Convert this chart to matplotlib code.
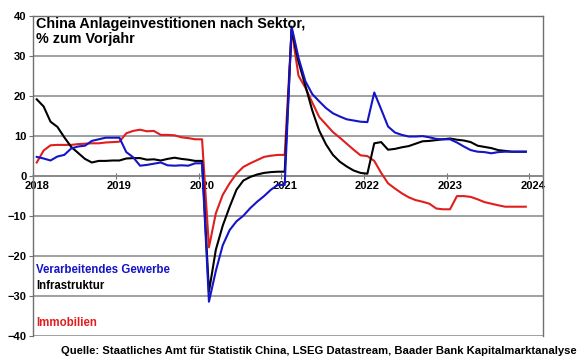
import matplotlib
matplotlib.use("Agg")
import matplotlib.pyplot as plt
import numpy as np
from matplotlib.transforms import ScaledTranslation

plt.rcParams["font.family"] = ["Liberation Sans", "DejaVu Sans"]

# Monthly YTD growth, Jan 2018 - Dec 2023 (Jan carries the Dec value)
years = [2018, 2019, 2020, 2021, 2022, 2023]

verarbeitendes = [
    4.7, 4.3, 3.8, 4.8, 5.2, 6.8, 7.3, 7.5, 8.7, 9.1, 9.5, 9.5,
    9.5, 5.9, 4.6, 2.5, 2.7, 3.0, 3.3, 2.6, 2.5, 2.6, 2.5, 3.1,
    3.1, -31.5, -23.8, -17.4, -13.6, -11.4, -10.0, -8.1, -6.5, -5.1, -3.5, -2.3,
    -2.3, 37.3, 29.5, 23.6, 20.4, 18.6, 16.9, 15.6, 14.8, 14.1, 13.8, 13.5,
    13.4, 20.8, 16.6, 12.3, 10.8, 10.2, 9.8, 9.8, 9.9, 9.6, 9.2, 9.1,
    9.1, 8.3, 7.3, 6.4, 6.0, 5.9, 5.6, 5.9, 6.0, 6.0, 6.0, 6.0,
]

infrastruktur = [
    19.1, 17.3, 13.5, 12.2, 9.6, 7.2, 5.7, 4.2, 3.3, 3.7, 3.7, 3.8,
    3.8, 4.3, 4.4, 4.4, 4.0, 4.1, 3.8, 4.2, 4.5, 4.2, 4.0, 3.7,
    3.7, -29.0, -18.5, -12.5, -7.8, -3.5, -1.2, -0.3, 0.3, 0.7, 0.9, 1.0,
    1.0, 36.6, 28.5, 22.5, 16.3, 11.3, 7.8, 5.2, 3.5, 2.3, 1.3, 0.7,
    0.5, 8.1, 8.4, 6.5, 6.7, 7.1, 7.4, 8.0, 8.6, 8.7, 8.9, 9.1,
    9.3, 9.0, 8.8, 8.4, 7.5, 7.2, 6.9, 6.4, 6.2, 6.0, 6.0, 6.0,
]

immobilien = [
    3.3, 6.3, 7.6, 7.7, 7.7, 7.7, 7.9, 8.0, 8.1, 8.1, 8.3, 8.4,
    8.5, 10.6, 11.2, 11.5, 11.1, 11.2, 10.2, 10.2, 10.1, 9.6, 9.4, 9.1,
    9.1, -17.9, -9.4, -4.8, -1.9, 0.5, 2.2, 3.1, 3.9, 4.7, 5.0, 5.2,
    5.2, 36.5, 25.0, 22.0, 18.3, 14.7, 12.8, 10.9, 9.5, 8.0, 6.5, 5.1,
    4.9, 3.7, 0.7, -1.9, -3.2, -4.4, -5.4, -6.1, -6.5, -7.0, -8.2, -8.4,
    -8.4, -5.1, -5.1, -5.3, -5.9, -6.6, -7.0, -7.4, -7.75, -7.75, -7.75, -7.75,
]

year_labels = ["2018", "2019", "2020", "2021", "2022", "2023", "2024"]

# mid-month positions on a fractional-year axis
t = np.array([y + (m - 0.5) / 12 for y in years for m in range(1, 13)])

fig = plt.figure(figsize=(5.8, 3.59), dpi=100)
ax = fig.add_axes([33.3 / 580, 1 - 335.7 / 359, 510 / 580, 320 / 359])

blue = "#1414c8"
red = "#e01e1e"
ax.plot(t, immobilien, color=red, lw=1.5, zorder=3)
ax.plot(t, infrastruktur, color="black", lw=1.5, zorder=4)
ax.plot(t, verarbeitendes, color=blue, lw=1.5, zorder=5)

ax.set_xlim(2018.0, 2024.17)
ax.set_ylim(-40, 40)
ax.set_yticks(range(-40, 41, 10))
ax.yaxis.grid(True, color="#858585", lw=1.1)
ax.set_axisbelow(True)

for side in ("left", "top", "right"):
    ax.spines[side].set_color("#707070")
    ax.spines[side].set_linewidth(1.0)
ax.spines["bottom"].set_position(("data", 0))
ax.spines["bottom"].set_color("#858585")
ax.spines["bottom"].set_linewidth(1.1)

ax.set_xticks(np.arange(2018, 2025), year_labels)
ax.tick_params(axis="x", direction="inout", length=5, width=0.8, color="#707070",
               labelsize=8, pad=1)
ax.tick_params(axis="y", direction="out", length=3, width=0.8, color="#707070",
               labelsize=8, pad=2)
for lab in ax.get_xticklabels() + ax.get_yticklabels():
    lab.set_fontweight("bold")
shift = ScaledTranslation(3.5 / 100, 0, fig.dpi_scale_trans)
for lab in ax.get_xticklabels():
    lab.set_transform(lab.get_transform() + shift)

fig.text(36 / 580, 1 - 17 / 359, "China Anlageinvestitionen nach Sektor,\n% zum Vorjahr",
         fontsize=10.4, fontweight="bold", va="top", ha="left", linespacing=1.05)

fig.text(36 / 580, 1 - 270 / 359, "Verarbeitendes Gewerbe", color=blue,
         fontsize=8.3, fontweight="bold", va="center")
fig.text(36 / 580, 1 - 286 / 359, "Infrastruktur", color="black",
         fontsize=8.3, fontweight="bold", va="center")
fig.text(36 / 580, 1 - 323 / 359, "Immobilien", color=red,
         fontsize=8.3, fontweight="bold", va="center")

fig.text(577 / 580, 1 - 351 / 359,
         "Quelle: Staatliches Amt für Statistik China, LSEG Datastream, Baader Bank Kapitalmarktanalyse",
         fontsize=8.1, fontweight="bold", ha="right", va="center")

fig.savefig("out.png", dpi=100)
